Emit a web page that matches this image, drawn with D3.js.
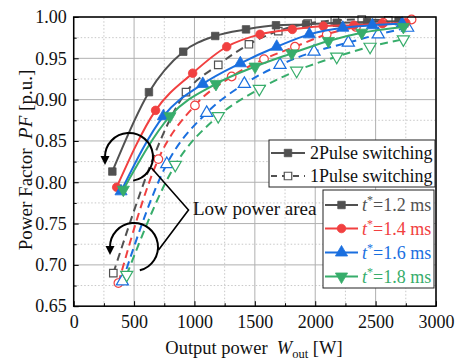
<!DOCTYPE html>
<html><head><meta charset="utf-8">
<script src="https://cdn.jsdelivr.net/npm/d3@7"></script>
<style>html,body{margin:0;padding:0;background:#fff;}svg{display:block;}</style>
</head><body>
<svg id="c" width="458" height="360"></svg>
<script>
// ---- data ----
const tLabels = ["1.2", "1.4", "1.6", "1.8"];
const colors = ["#515151", "#F14040", "#1A6FDF", "#37AD6B"];
const xTicks = [0, 500, 1000, 1500, 2000, 2500, 3000];
const yTicks = [0.65, 0.70, 0.75, 0.80, 0.85, 0.90, 0.95, 1.00];

// 2Pulse switching (solid, filled markers)
const w2P_12 = [320, 623, 907, 1172, 1427, 1675, 1925, 2178, 2430, 2690];
const pf2P_12 = [0.813, 0.909, 0.958, 0.977, 0.985, 0.990, 0.991, 0.993, 0.994, 0.995];
const w2P_14 = [356, 678, 985, 1267, 1543, 1810, 2067, 2320, 2555, 2750];
const pf2P_14 = [0.794, 0.887, 0.932, 0.964, 0.979, 0.985, 0.989, 0.990, 0.992, 0.993];
const w2P_16 = [392, 743, 1069, 1380, 1681, 1951, 2228, 2473, 2720];
const pf2P_16 = [0.789, 0.880, 0.919, 0.944, 0.964, 0.979, 0.987, 0.990, 0.992];
const w2P_18 = [411, 797, 1178, 1502, 1806, 2109, 2385, 2730];
const pf2P_18 = [0.791, 0.880, 0.919, 0.940, 0.956, 0.971, 0.981, 0.988];

// 1Pulse switching (dashed, open markers)
const w1P_12 = [328, 930, 1197, 1451, 1694, 1937, 2162, 2385, 2605];
const pf1P_12 = [0.690, 0.909, 0.942, 0.967, 0.983, 0.992, 0.996, 0.997, 0.996];
const w1P_14 = [370, 701, 1004, 1308, 1576, 1832, 2095, 2337, 2563, 2798];
const pf1P_14 = [0.678, 0.828, 0.893, 0.928, 0.949, 0.964, 0.979, 0.988, 0.993, 0.997];
const w1P_16 = [403, 771, 1101, 1413, 1708, 1990, 2274, 2522, 2765];
const pf1P_16 = [0.680, 0.822, 0.884, 0.919, 0.942, 0.958, 0.969, 0.979, 0.987];
const w1P_18 = [439, 841, 1197, 1537, 1846, 2178, 2454, 2730];
const pf1P_18 = [0.688, 0.821, 0.880, 0.913, 0.935, 0.952, 0.964, 0.973];

const series2P = [[w2P_12, pf2P_12], [w2P_14, pf2P_14], [w2P_16, pf2P_16], [w2P_18, pf2P_18]];
const series1P = [[w1P_12, pf1P_12], [w1P_14, pf1P_14], [w1P_16, pf1P_16], [w1P_18, pf1P_18]];

// ---- drawing ----
const FONT = "'Liberation Serif','Times New Roman',serif";
const svg = d3.select("#c");
const x = d3.scaleLinear().domain([0, 3000]).range([73.7, 436]);
const y = d3.scaleLinear().domain([0.65, 1.0]).range([306.2, 17]);
const X0 = x.range()[0], X1 = x.range()[1], Y0 = y.range()[0], Y1 = y.range()[1];

// grid
const g = svg.append("g");
const xMinor = d3.range(250, 3000, 500);
const yMinor = d3.range(0.675, 1.0, 0.05);
g.selectAll(".xm").data(xMinor).join("line")
  .attr("x1", d => x(d)).attr("x2", d => x(d)).attr("y1", Y0).attr("y2", Y1)
  .attr("stroke", "#c8c8c8").attr("stroke-width", 1).attr("stroke-dasharray", "1.5,2");
g.selectAll(".ym").data(yMinor).join("line")
  .attr("y1", d => y(d)).attr("y2", d => y(d)).attr("x1", X0).attr("x2", X1)
  .attr("stroke", "#c8c8c8").attr("stroke-width", 1).attr("stroke-dasharray", "1.5,2");
g.selectAll(".xM").data(xTicks).join("line")
  .attr("x1", d => x(d)).attr("x2", d => x(d)).attr("y1", Y0).attr("y2", Y1)
  .attr("stroke", "#b0b0b0").attr("stroke-width", 1);
g.selectAll(".yM").data(yTicks).join("line")
  .attr("y1", d => y(d)).attr("y2", d => y(d)).attr("x1", X0).attr("x2", X1)
  .attr("stroke", "#b0b0b0").attr("stroke-width", 1);

// axes
const ax = svg.append("g").attr("transform", `translate(0,${Y0})`)
  .call(d3.axisBottom(x).tickValues(xTicks).tickSizeInner(-5).tickSizeOuter(0).tickPadding(9).tickFormat(d3.format("d")));
const axm = svg.append("g").attr("transform", `translate(0,${Y0})`)
  .call(d3.axisBottom(x).tickValues(xMinor).tickSizeInner(-3).tickSizeOuter(0).tickFormat(""));
const ay = svg.append("g").attr("transform", `translate(${X0},0)`)
  .call(d3.axisLeft(y).tickValues(yTicks).tickSizeInner(-5).tickSizeOuter(0).tickPadding(7).tickFormat(d3.format(".2f")));
const aym = svg.append("g").attr("transform", `translate(${X0},0)`)
  .call(d3.axisLeft(y).tickValues(yMinor).tickSizeInner(-3).tickSizeOuter(0).tickFormat(""));
[ax, axm, ay, aym].forEach(a => {
  a.select(".domain").remove();
  a.selectAll("line").attr("stroke", "#000").attr("stroke-width", 1);
  a.selectAll("text").attr("font-family", FONT).attr("font-size", 18).attr("fill", "#111");
});

// curves
const line = d3.line().x(d => x(d[0])).y(d => y(d[1])).curve(d3.curveMonotoneX);
const symSq = d3.symbol().type(d3.symbolSquare).size(56);
const symCi = d3.symbol().type(d3.symbolCircle).size(58);
const symTr = d3.symbol().type(d3.symbolTriangle).size(64);
const syms = [symSq, symCi, symTr, symTr];
const rots = [0, 0, 0, 180];

function drawSeries(data, i, open) {
  const pts = data[0].map((w, k) => [w, data[1][k]]);
  svg.append("path").datum(pts).attr("d", line).attr("fill", "none")
    .attr("stroke", colors[i]).attr("stroke-width", 2)
    .attr("stroke-dasharray", open ? "8,5" : null);
  svg.append("g").selectAll("path").data(pts).join("path")
    .attr("d", syms[i]())
    .attr("transform", d => `translate(${x(d[0])},${y(d[1])}) rotate(${rots[i]})`)
    .attr("fill", open ? "#fff" : colors[i])
    .attr("stroke", colors[i]).attr("stroke-width", open ? 1.2 : 0.8);
}
series1P.forEach((s, i) => drawSeries(s, i, true));
series2P.forEach((s, i) => drawSeries(s, i, false));

// frame
svg.append("rect").attr("x", X0).attr("y", Y1).attr("width", X1 - X0).attr("height", Y0 - Y1)
  .attr("fill", "none").attr("stroke", "#000").attr("stroke-width", 1.5);

// annotations: rotating arrows + bracket
function circArrow(cx, cy, r, a0, a1) {
  const p = d3.path();
  p.arc(cx, cy, r, a0 * Math.PI / 180, a1 * Math.PI / 180, true);
  svg.append("path").attr("d", p.toString()).attr("fill", "none").attr("stroke", "#000").attr("stroke-width", 2);
  const ex = cx + r * Math.cos(a1 * Math.PI / 180), ey = cy + r * Math.sin(a1 * Math.PI / 180);
  svg.append("path").attr("d", `M${ex - 4.5},${ey - 1}L${ex + 4.5},${ey - 1}L${ex},${ey + 8}Z`).attr("fill", "#000");
}
circArrow(129, 157, 24, 80, 180);
circArrow(134, 247, 24, 76, 180);
svg.append("path").attr("d", "M151.5,168L188.5,210L158.5,250").attr("fill", "none")
  .attr("stroke", "#000").attr("stroke-width", 1.6);
svg.append("text").attr("x", 193).attr("y", 215).attr("font-family", FONT).attr("font-size", 19)
  .attr("fill", "#111").text("Low power area");

// legend 1
const L1 = svg.append("g");
L1.append("rect").attr("x", 269).attr("y", 140).attr("width", 166).attr("height", 47)
  .attr("fill", "#fff").attr("stroke", "#222").attr("stroke-width", 1);
[["2Pulse switching", false, 153], ["1Pulse switching", true, 176]].forEach(([t, open, yy]) => {
  L1.append("line").attr("x1", 271).attr("x2", 305).attr("y1", yy).attr("y2", yy)
    .attr("stroke", colors[0]).attr("stroke-width", 2).attr("stroke-dasharray", open ? "6,5" : null);
  L1.append("path").attr("d", symSq()).attr("transform", `translate(288,${yy})`)
    .attr("fill", open ? "#fff" : colors[0]).attr("stroke", colors[0]).attr("stroke-width", open ? 1.2 : 0.8);
  L1.append("text").attr("x", 310).attr("y", yy + 6).attr("font-family", FONT).attr("font-size", 18)
    .attr("fill", "#111").text(t);
});

// legend 2
const L2 = svg.append("g");
L2.append("rect").attr("x", 323).attr("y", 190).attr("width", 111).attr("height", 98)
  .attr("fill", "#fff").attr("stroke", "#222").attr("stroke-width", 1);
const rowsY = [205, 228.5, 252.5, 276.5];
tLabels.forEach((t, i) => {
  const yy = rowsY[i];
  L2.append("line").attr("x1", 325).attr("x2", 358).attr("y1", yy).attr("y2", yy)
    .attr("stroke", colors[i]).attr("stroke-width", 2);
  L2.append("path").attr("d", syms[i]()).attr("transform", `translate(341.5,${yy}) rotate(${rots[i]})`)
    .attr("fill", colors[i]).attr("stroke", colors[i]).attr("stroke-width", 0.8);
  const tx = L2.append("text").attr("x", 362).attr("y", yy + 6).attr("font-family", FONT)
    .attr("font-size", 18).attr("fill", colors[i]);
  tx.append("tspan").attr("font-style", "italic").text("t");
  tx.append("tspan").attr("dy", -7).attr("font-size", 12).text("*");
  tx.append("tspan").attr("dy", 7).text("=" + t + " ms");
});

// axis titles
const xt = svg.append("text").attr("x", 254).attr("y", 354).attr("text-anchor", "middle")
  .attr("font-family", FONT).attr("font-size", 18.5).attr("fill", "#111");
xt.append("tspan").text("Output power\u00a0\u00a0");
xt.append("tspan").attr("font-style", "italic").text("W");
xt.append("tspan").attr("dy", 4).attr("font-size", 12.5).text("out");
xt.append("tspan").attr("dy", -4).text(" [W]");

const yt = svg.append("text").attr("transform", "translate(32,160) rotate(-90)").attr("text-anchor", "middle")
  .attr("font-family", FONT).attr("font-size", 19).attr("fill", "#111");
yt.append("tspan").text("Power Factor\u00a0\u00a0");
yt.append("tspan").attr("font-style", "italic").text("PF");
yt.append("tspan").text(" [p.u.]");
</script>
</body></html>
